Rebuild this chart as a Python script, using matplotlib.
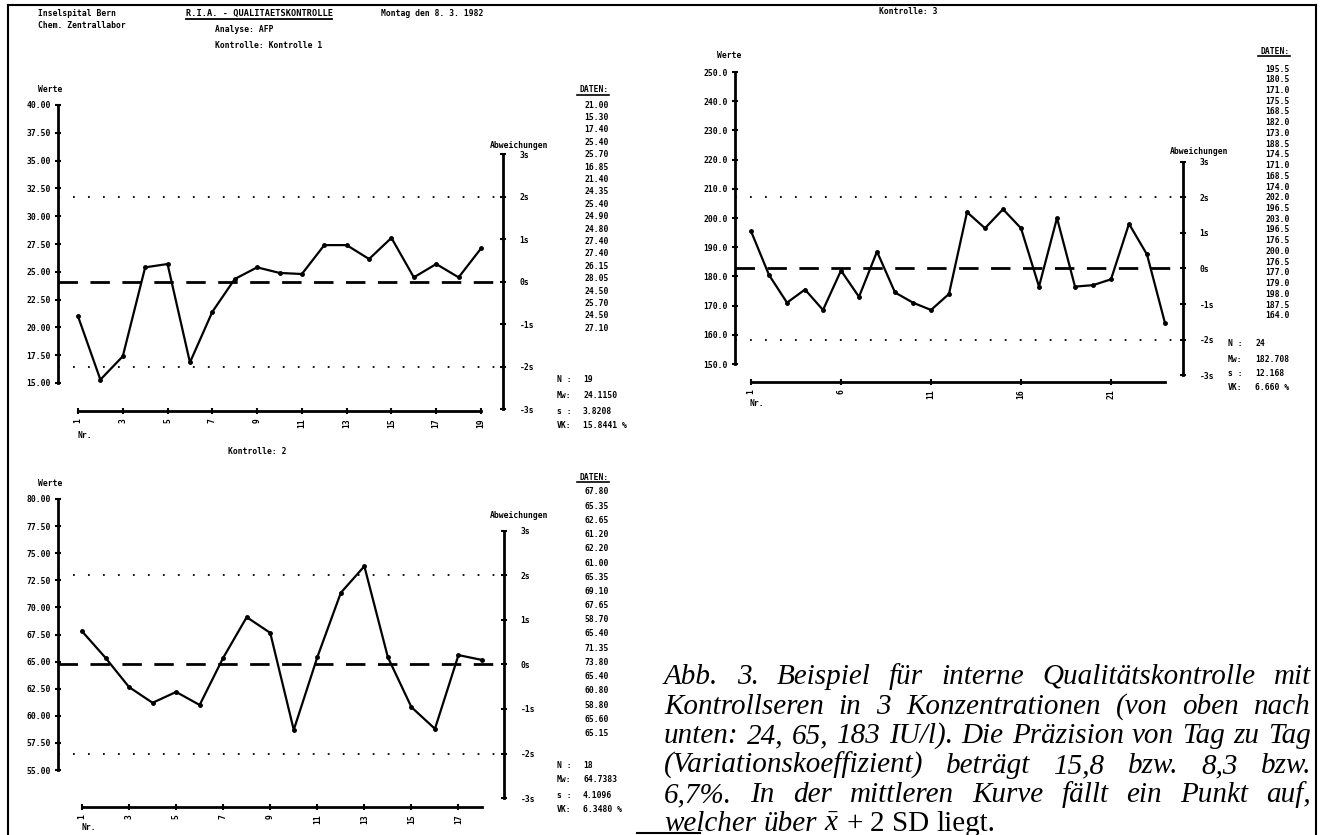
import matplotlib
matplotlib.use("Agg")
import matplotlib.pyplot as plt

W, H = 1321, 835

# --- Kontrolle 1 (oben links) ---
werte1 = [21.00, 15.30, 17.40, 25.40, 25.70, 16.85, 21.40, 24.35, 25.40, 24.90,
          24.80, 27.40, 27.40, 26.15, 28.05, 24.50, 25.70, 24.50, 27.10]
mw1, s1 = 24.1150, 3.8208
yticks1 = [40.00, 37.50, 35.00, 32.50, 30.00, 27.50, 25.00, 22.50, 20.00, 17.50, 15.00]
xlab1 = [1, 3, 5, 7, 9, 11, 13, 15, 17, 19]

# --- Kontrolle 3 (oben rechts) ---
werte3 = [195.5, 180.5, 171.0, 175.5, 168.5, 182.0, 173.0, 188.5, 174.5, 171.0,
          168.5, 174.0, 202.0, 196.5, 203.0, 196.5, 176.5, 200.0, 176.5, 177.0,
          179.0, 198.0, 187.5, 164.0]
mw3, s3 = 182.708, 12.168
yticks3 = [250.0, 240.0, 230.0, 220.0, 210.0, 200.0, 190.0, 180.0, 170.0, 160.0, 150.0]
xlab3 = [1, 6, 11, 16, 21]

# --- Kontrolle 2 (unten links) ---
werte2 = [67.80, 65.35, 62.65, 61.20, 62.20, 61.00, 65.35, 69.10, 67.65, 58.70,
          65.40, 71.35, 73.80, 65.40, 60.80, 58.80, 65.60, 65.15]
mw2, s2 = 64.7383, 4.1096
yticks2 = [80.00, 77.50, 75.00, 72.50, 70.00, 67.50, 65.00, 62.50, 60.00, 57.50, 55.00]
xlab2 = [1, 3, 5, 7, 9, 11, 13, 15, 17]

sig_ticks = [-3, -2, -1, 0, 1, 2, 3]
sig_labels = ["-3s", "-2s", "-1s", "0s", "1s", "2s", "3s"]

caption = [
    "Abb. 3. Beispiel für interne Qualitätskontrolle mit",
    "Kontrollseren in 3 Konzentrationen (von oben nach",
    "unten: 24, 65, 183 IU/l). Die Präzision von Tag zu Tag",
    "(Variationskoeffizient) beträgt 15,8 bzw. 8,3 bzw.",
    "6,7%. In der mittleren Kurve fällt ein Punkt auf,",
]

plt.rcParams["mathtext.fontset"] = "custom"
plt.rcParams["mathtext.it"] = "Liberation Serif:italic"
plt.rcParams["mathtext.rm"] = "Liberation Serif"

PR = dict(family="DejaVu Sans Mono", weight="bold", size=5.8, color="black")

fig = plt.figure(figsize=(W / 100, H / 100), dpi=100)
bg = fig.add_axes([0, 0, 1, 1])
bg.set_xlim(0, W)
bg.set_ylim(H, 0)
bg.axis("off")

# Rahmen
bg.plot([8, 8], [5, 835], color="black", lw=1.5)
bg.plot([8, 1316], [5, 5], color="black", lw=1.5)
bg.plot([1316, 1316], [5, 835], color="black", lw=1.5)
bg.plot([637, 700], [833, 833], color="black", lw=1.5)


def panel(werte, mw, s, yticks, yfmt, xlab, left, right, x1, xn, ytop, ybot, base):
    n = len(werte)
    ux = (xn - x1) / (n - 1)
    uy = (ybot - ytop) / (yticks[0] - yticks[-1])
    top = ytop - 70
    ax = fig.add_axes([left / W, 1 - base / H, (right - left) / W, (base - top) / H])
    ax.patch.set_visible(False)
    ax.set_xlim(1 - (x1 - left) / ux, n + (right - xn) / ux)
    lo = yticks[-1] - (base - ybot) / uy
    hi = yticks[0] + (ytop - top) / uy
    ax.set_ylim(lo, hi)
    for sp in ["top", "right"]:
        ax.spines[sp].set_visible(False)
    ax.spines["left"].set_bounds(yticks[-1], yticks[0])
    ax.spines["bottom"].set_bounds(1, n)
    ax.spines["left"].set_linewidth(2)
    ax.spines["bottom"].set_linewidth(2)
    ax.set_yticks(yticks)
    ax.set_yticklabels([yfmt % v for v in yticks], **PR)
    ax.set_xticks(xlab)
    ax.set_xticklabels([str(v) for v in xlab], rotation=90, **PR)
    ax.tick_params(axis="both", direction="inout", length=4, width=1.5, pad=3)

    ax.axhline(mw, color="black", lw=2, dashes=(7, 4.5))
    ax.axhline(mw + 2 * s, color="black", lw=1.3, linestyle=(0, (1, 7.3)))
    ax.axhline(mw - 2 * s, color="black", lw=1.3, linestyle=(0, (1, 7.3)))
    ax.plot(range(1, n + 1), werte, color="black", lw=1.6, marker="o", ms=2.5)

    ax2 = ax.twinx()
    ax2.patch.set_visible(False)
    ax2.set_ylim((lo - mw) / s, (hi - mw) / s)
    for sp in ["top", "left", "bottom"]:
        ax2.spines[sp].set_visible(False)
    ax2.spines["right"].set_bounds(-3, 3)
    ax2.spines["right"].set_linewidth(2)
    ax2.set_yticks(sig_ticks)
    ax2.set_yticklabels(sig_labels, **PR)
    ax2.tick_params(axis="y", direction="inout", length=4, width=1.5, pad=10)
    return ax


def daten(werte, fmt, x_right, y0, dy, head_y):
    bg.text(x_right, head_y, "DATEN:", ha="right", va="center", **PR)
    bg.plot([x_right - 32, x_right], [head_y + 5, head_y + 5], color="black", lw=1.2)
    for i, v in enumerate(werte):
        bg.text(x_right, y0 + i * dy, fmt % v, ha="right", va="center", **PR)


def stats(werte, mw, s, mfmt, sfmt, vfmt, xl, xv, ys):
    rows = [("N :", "%d" % len(werte)), ("Mw:", mfmt % mw), ("s :", sfmt % s),
            ("VK:", (vfmt % (100 * s / mw)) + " %")]
    for (a, b), y in zip(rows, ys):
        bg.text(xl, y, a, ha="left", va="center", **PR)
        bg.text(xv, y, b, ha="left", va="center", **PR)


# Kopf
bg.text(38, 13, "Inselspital Bern", ha="left", va="center", **PR)
bg.text(38, 26, "Chem. Zentrallabor", ha="left", va="center", **PR)
bg.text(186, 13, "R.I.A. - QUALITAETSKONTROLLE", ha="left", va="center",
        family="DejaVu Sans Mono", weight="bold", size=6.2)
bg.plot([186, 332], [19, 19], color="black", lw=1.3)
bg.text(381, 13, "Montag den 8. 3. 1982", ha="left", va="center", **PR)
bg.text(215, 30, "Analyse: AFP", ha="left", va="center", **PR)
bg.text(215, 46, "Kontrolle: Kontrolle 1", ha="left", va="center", **PR)

# Panel Kontrolle 1
panel(werte1, mw1, s1, yticks1, "%.2f", xlab1, 58, 503, 78, 481, 105, 383, 411)
bg.text(38, 90, "Werte", ha="left", va="center", **PR)
bg.text(490, 145, "Abweichungen", ha="left", va="center", **PR)
bg.text(78, 436, "Nr.", ha="left", va="center", **PR)
daten(werte1, "%.2f", 609, 105, 12.4, 90)
stats(werte1, mw1, s1, "%.4f", "%.4f", "%.4f", 557, 583, [380, 396, 411, 426])

# Panel Kontrolle 3
bg.text(908, 11, "Kontrolle: 3", ha="center", va="center", **PR)
panel(werte3, mw3, s3, yticks3, "%.1f", xlab3, 735, 1183, 751, 1165, 72, 364, 382)
bg.text(717, 55, "Werte", ha="left", va="center", **PR)
bg.text(1170, 151, "Abweichungen", ha="left", va="center", **PR)
bg.text(750, 404, "Nr.", ha="left", va="center", **PR)
daten(werte3, "%.1f", 1290, 69, 10.73, 51)
stats(werte3, mw3, s3, "%.3f", "%.3f", "%.3f", 1228, 1255, [343, 359, 373, 387])

# Panel Kontrolle 2
bg.text(257, 452, "Kontrolle: 2", ha="center", va="center", **PR)
panel(werte2, mw2, s2, yticks2, "%.2f", xlab2, 58, 504, 82, 482, 499, 770, 807)
bg.text(38, 483, "Werte", ha="left", va="center", **PR)
bg.text(490, 516, "Abweichungen", ha="left", va="center", **PR)
bg.text(82, 827, "Nr.", ha="left", va="center", **PR)
daten(werte2, "%.2f", 609, 492, 14.2, 477)
stats(werte2, mw2, s2, "%.4f", "%.4f", "%.4f", 557, 583, [765, 780, 795, 809])

# Bildunterschrift (Blocksatz)
rend = fig.canvas.get_renderer()
FS = 21
CAP = dict(family="Liberation Serif", style="italic", weight="normal", size=FS, color="black")
cx0, cx1 = 664, 1311
base_y = [684, 714, 743, 773, 802]
for line, yb in zip(caption, base_y):
    words = line.split()
    ts = [bg.text(0, yb, w, ha="left", va="baseline", **CAP) for w in words]
    ws = [t.get_window_extent(renderer=rend).width for t in ts]
    gap = (cx1 - cx0 - sum(ws)) / (len(words) - 1)
    x = cx0
    for t, w in zip(ts, ws):
        t.set_x(x)
        x += w + gap

REG = dict(CAP, style="normal")
pieces = [("welcher", CAP), ("über", CAP), (r"$\bar{x}$", CAP), ("+", REG),
          ("2", REG), ("SD", REG), ("liegt.", REG)]
x = cx0
sp = FS * 100 / 72 * 0.25
for txt, st in pieces:
    t = bg.text(x, 831, txt, ha="left", va="baseline", **st)
    x += t.get_window_extent(renderer=rend).width + sp

fig.savefig("out.png", dpi=100, facecolor="white")
